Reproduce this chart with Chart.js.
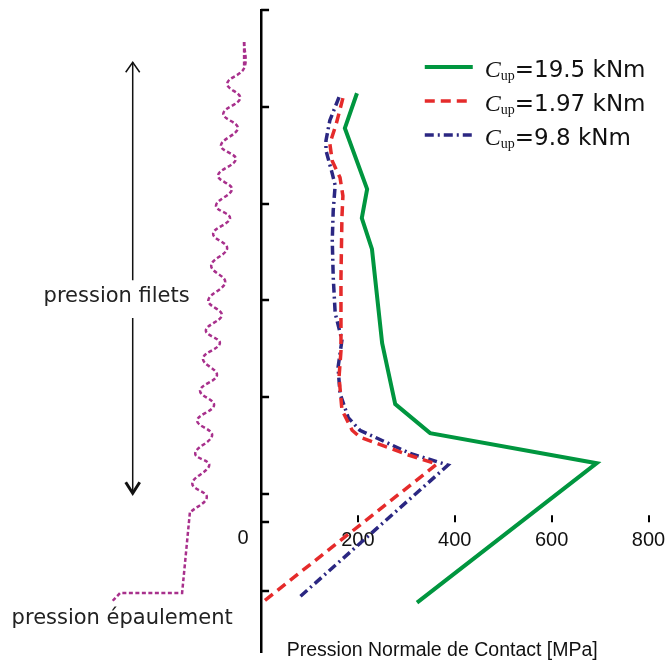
<!DOCTYPE html>
<html>
<head>
<meta charset="utf-8">
<script src="https://cdn.jsdelivr.net/npm/chart.js@4.4.1/dist/chart.umd.min.js"></script>
<style>
  html, body { margin: 0; padding: 0; background: #fff; }
  #wrap { width: 665px; height: 666px; position: relative; }
</style>
</head>
<body>
<div id="wrap"><canvas id="chart"></canvas></div>
<script>
// Contact pressure [MPa] read along the connection (y = position, no unit shown)
const torques = ['19.5', '1.97', '9.8'];

const pressure195 = [198, 173, 219, 208, 229, 250, 277, 349, 693, 322];
const position195 = [41.4, 37.8, 31.5, 28.5, 25.3, 15.6, 9.3, 6.3, 3.2, -11.2];

const pressure197 = [169, 155, 142, 147, 163, 169, 167, 165, 165, 161, 167, 188, 204, 301, 363, 2];
const position197 = [40.9, 38.2, 36.2, 34.4, 32.7, 30.8, 28.6, 22.4, 14.8, 12.1, 8.7, 6.6, 5.9, 4.1, 3.1, -11.2];

const pressure98 = [161, 142, 134, 134, 147, 153, 149, 147, 149, 153, 167, 159, 163, 180, 204, 308, 386, 80];
const position98 = [41.0, 38.6, 36.5, 35.5, 33.1, 31.9, 29.3, 26.2, 22.4, 18.7, 15.9, 13.1, 10.4, 7.9, 6.6, 4.2, 3.0, -10.6];

// thread profile sketch on the left (crests)
const threadX = [-35, -35, -70, -43, -78, -48, -83, -52, -89, -60, -93, -64, -99, -70, -103, -74,
                 -109, -81, -114, -85, -120, -91, -126, -97, -132, -101, -136, -107, -142, -112, -147];
const threadY = [46.7, 44.0, 42.4, 40.9, 39.3, 37.8, 36.0, 34.6, 32.9, 31.5, 29.8, 28.5, 26.9, 25.4, 23.6, 21.9,
                 20.0, 18.5, 16.9, 15.6, 14.0, 12.3, 10.7, 9.2, 7.6, 6.1, 4.2, 3.0, 1.1, -0.3, -1.9];
const shoulderX = [-35, -35, null, -147, -163, -291, -308];
const shoulderY = [46.7, 44.0, null, -1.9, -10.2, -10.2, -11.1];

const xTickValues = [0, 200, 400, 600, 800];
const yTickValues = [-10, -2.9, 0, 10, 20, 30, 40, 50];
const xAxisAt = -2.9;

const zip = (xs, ys) => xs.map((v, i) => ({ x: v, y: ys[i] }));

const green = '#00963f';
const red = '#e52b2b';
const navy = '#2b2782';
const magenta = '#a8308c';

const curves = [
  { label: torques[0], data: zip(pressure195, position195), borderColor: green, borderWidth: 4, borderDash: [] },
  { label: torques[1], data: zip(pressure197, position197), borderColor: red, borderWidth: 3.5, borderDash: [10, 6] },
  { label: torques[2], data: zip(pressure98, position98), borderColor: navy, borderWidth: 3.5, borderDash: [9, 4, 2, 4] }
];

// keep the full canvas width for the plot, labels may touch the edge
const noPad = s => { s.paddingLeft = 0; s.paddingRight = 0; s.paddingTop = 0; s.paddingBottom = 0; };

const sketch = {
  id: 'sketch',
  afterDatasetsDraw(chart) {
    const { ctx, chartArea, scales: { x, y } } = chart;
    const x0 = x.getPixelForValue(0);
    const yAx = y.getPixelForValue(xAxisAt);
    ctx.save();

    // inward ticks on the vertical axis
    ctx.strokeStyle = '#000';
    ctx.lineWidth = 2.5;
    yTickValues.forEach(v => {
      const py = Math.round(y.getPixelForValue(v));
      ctx.beginPath();
      ctx.moveTo(x0, py);
      ctx.lineTo(x0 + 8, py);
      ctx.stroke();
    });
    // upward ticks on the pressure axis
    ctx.lineWidth = 2;
    xTickValues.slice(1).forEach(v => {
      const px = Math.round(x.getPixelForValue(v));
      ctx.beginPath();
      ctx.moveTo(px, yAx);
      ctx.lineTo(px, yAx - 7);
      ctx.stroke();
    });
    ctx.fillStyle = '#111';
    ctx.font = '20px "Liberation Sans"';
    ctx.textAlign = 'center';
    ctx.textBaseline = 'middle';
    ctx.fillText('0', x0 - 18, yAx + 16);

    // arrow "pression filets"
    const ax = x.getPixelForValue(-265);
    const aTop = y.getPixelForValue(44.6);
    const aBot = y.getPixelForValue(0.1);
    ctx.lineWidth = 1.5;
    ctx.strokeStyle = '#111';
    ctx.beginPath();
    ctx.moveTo(ax, aTop);
    ctx.lineTo(ax, y.getPixelForValue(22.1));
    ctx.moveTo(ax, y.getPixelForValue(18.2));
    ctx.lineTo(ax, aBot);
    ctx.stroke();
    ctx.beginPath();
    ctx.moveTo(ax - 7, aTop + 10);
    ctx.lineTo(ax, aTop);
    ctx.lineTo(ax + 7, aTop + 10);
    ctx.stroke();
    ctx.lineWidth = 3;
    ctx.beginPath();
    ctx.moveTo(ax - 7, aBot - 11);
    ctx.lineTo(ax, aBot);
    ctx.lineTo(ax + 7, aBot - 11);
    ctx.stroke();

    ctx.font = '21px "DejaVu Sans"';
    ctx.fillStyle = '#222';
    ctx.textAlign = 'left';
    ctx.fillText('pression filets', x.getPixelForValue(-449), y.getPixelForValue(20.4));
    ctx.fillText('pression épaulement', x.getPixelForValue(-515), y.getPixelForValue(-12.8));

    // axis title
    ctx.font = '19.5px "Liberation Sans"';
    ctx.fillStyle = '#111';
    ctx.fillText('Pression Normale de Contact [MPa]', x.getPixelForValue(53), chartArea.bottom - 1);

    // legend
    const lx = x.getPixelForValue(338);
    curves.forEach((c, i) => {
      const ly = chartArea.top + 57 + i * 34;
      ctx.strokeStyle = c.borderColor;
      ctx.lineWidth = c.borderWidth;
      ctx.setLineDash(c.borderDash);
      ctx.beginPath();
      ctx.moveTo(lx, ly);
      ctx.lineTo(lx + 48, ly);
      ctx.stroke();
      ctx.setLineDash([]);
      ctx.fillStyle = '#111';
      ctx.textBaseline = 'alphabetic';
      let tx = lx + 60;
      ctx.font = 'italic 24px "Liberation Serif"';
      ctx.fillText('C', tx, ly + 10);
      tx += ctx.measureText('C').width;
      ctx.font = '14px "Liberation Serif"';
      ctx.fillText('up', tx, ly + 13);
      tx += ctx.measureText('up').width;
      ctx.font = '23px "DejaVu Sans"';
      ctx.fillText('=' + c.label + ' kNm', tx, ly + 10);
      ctx.textBaseline = 'middle';
    });
    ctx.restore();
  }
};

new Chart(document.getElementById('chart'), {
  type: 'line',
  data: {
    datasets: [
      { data: zip(threadX, threadY), borderColor: magenta, borderWidth: 2.5, borderDash: [4, 2.5], tension: 0.4, pointRadius: 0 },
      { data: zip(shoulderX, shoulderY), borderColor: magenta, borderWidth: 2.5, borderDash: [4, 2.5], tension: 0, pointRadius: 0, spanGaps: false },
      ...curves.map(c => ({ ...c, pointRadius: 0, tension: 0, fill: false }))
    ]
  },
  options: {
    responsive: true,
    maintainAspectRatio: false,
    animation: false,
    layout: { padding: { top: 10, bottom: 14, left: 0, right: 0 } },
    plugins: { legend: { display: false }, tooltip: { enabled: false } },
    scales: {
      x: {
        type: 'linear', min: -539, max: 834,
        position: { y: xAxisAt },
        afterBuildTicks: s => { s.ticks = xTickValues.slice(1).map(v => ({ value: v })); },
        afterFit: noPad,
        grid: { display: false, drawTicks: false },
        border: { display: false },
        ticks: { font: { family: 'Liberation Sans', size: 20 }, color: '#111', padding: 6, maxRotation: 0, autoSkip: false }
      },
      y: {
        type: 'linear', min: -16.3, max: 50,
        position: { x: 0 },
        afterFit: noPad,
        grid: { display: false, drawTicks: false },
        border: { display: true, color: '#000', width: 2.5 },
        ticks: { display: false }
      }
    }
  },
  plugins: [sketch]
});
</script>
</body>
</html>
